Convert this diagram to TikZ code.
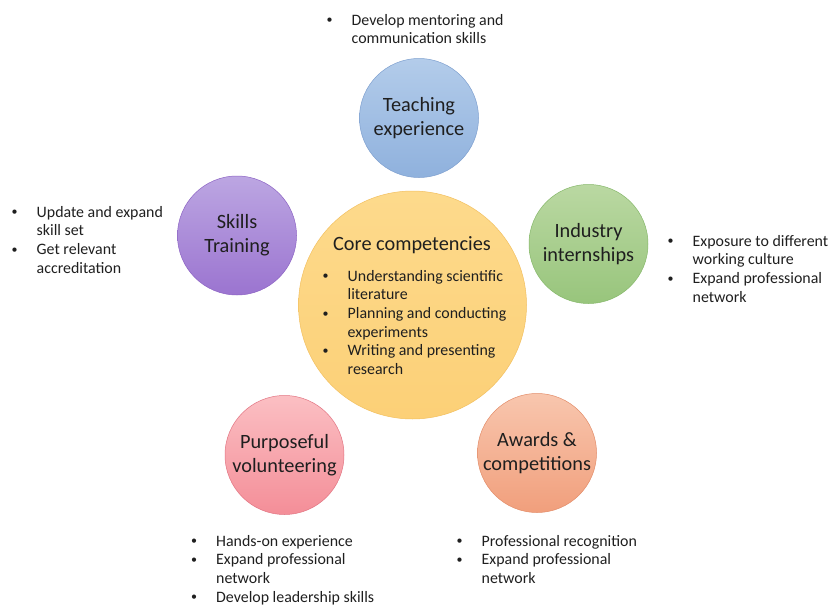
\documentclass[tikz,border=0pt]{standalone}
\usepackage{fontspec}
\setmainfont{Carlito}
\newcommand\dotmark{\raisebox{1.2pt}{\fontsize{12}{12}\selectfont\textbullet}}
\newcommand\itemlist[1]{\begin{tabular}[t]{@{}p{25pt}@{}l@{}}#1\end{tabular}}
\begin{document}
\begin{tikzpicture}[x=1pt,y=-1pt,
  bubble/.style={circle, minimum size=119pt, inner sep=0pt, align=center,
    font=\fontsize{20.3}{24}\selectfont, text=black!88, line width=0.5pt},
  listbox/.style={anchor=base west, inner sep=0pt,
    font=\fontsize{15.9}{18.7}\selectfont, text=black!88},
]
\definecolor{tA}{HTML}{B3CCEA}\definecolor{tB}{HTML}{8FB1DD}\definecolor{tE}{HTML}{7D9FCF}
\definecolor{sA}{HTML}{BCA6E2}\definecolor{sB}{HTML}{9B74D0}\definecolor{sE}{HTML}{8C63C4}
\definecolor{cA}{HTML}{FDDA8C}\definecolor{cB}{HTML}{FCD077}\definecolor{cE}{HTML}{F3C060}
\definecolor{iA}{HTML}{BAD8A2}\definecolor{iB}{HTML}{98C57C}\definecolor{iE}{HTML}{86B86A}
\definecolor{pA}{HTML}{FBBFC3}\definecolor{pB}{HTML}{F48E98}\definecolor{pE}{HTML}{E27482}
\definecolor{aA}{HTML}{F8C6AE}\definecolor{aB}{HTML}{F19F7C}\definecolor{aE}{HTML}{E38C68}

\useasboundingbox[fill=white] (0,0) rectangle (828,605);

% topic bubbles
\node[bubble, top color=tA, bottom color=tB, draw=tE] (teach) at (419,118) {Teaching\\experience};
\node[bubble, top color=sA, bottom color=sB, draw=sE] (skills) at (237,235.5) {Skills\\Training};
\node[bubble, top color=iA, bottom color=iB, draw=iE] (industry) at (588.5,244) {Industry\\internships};
\node[bubble, top color=pA, bottom color=pB, draw=pE] (volunteer) at (284.5,455) {Purposeful\\volunteering};
\node[bubble, top color=aA, bottom color=aB, draw=aE] (awards) at (537,453) {Awards \&\\competitions};

% central bubble
\node[circle, minimum size=228pt, inner sep=0pt, top color=cA, bottom color=cB, draw=cE, line width=0.5pt] (core) at (412.5,305) {};
\node[font=\fontsize{20.3}{24}\selectfont, text=black!88, anchor=base] (coretitle) at (412,250) {Core competencies};
\node[listbox] (corelist) at (322.5,281) {\itemlist{%
  \dotmark & Understanding scientific\\ & literature\\
  \dotmark & Planning and conducting\\ & experiments\\
  \dotmark & Writing and presenting\\ & research}};

% outcome lists
\node[listbox] (teachlist) at (326.5,25) {\itemlist{%
  \dotmark & Develop mentoring and\\ & communication skills}};
\node[listbox] (skilllist) at (11.5,217) {\itemlist{%
  \dotmark & Update and expand\\ & skill set\\
  \dotmark & Get relevant\\ & accreditation}};
\node[listbox] (industrylist) at (667.5,246) {\itemlist{%
  \dotmark & Exposure to different\\ & working culture\\
  \dotmark & Expand professional\\ & network}};
\node[listbox] (volunteerlist) at (191,546) {\itemlist{%
  \dotmark & Hands-on experience\\
  \dotmark & Expand professional\\ & network\\
  \dotmark & Develop leadership skills}};
\node[listbox] (awardslist) at (456.5,546) {\itemlist{%
  \dotmark & Professional recognition\\
  \dotmark & Expand professional\\ & network}};
\end{tikzpicture}
\end{document}
